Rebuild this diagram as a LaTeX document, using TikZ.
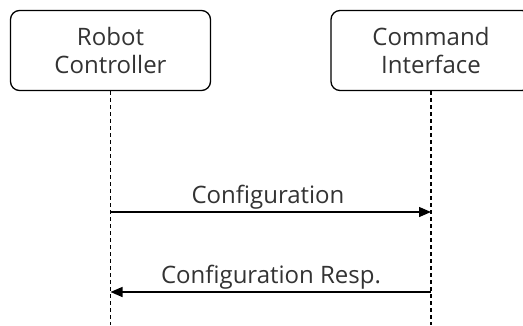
\documentclass[tikz,border=0pt]{standalone}
\usepackage{fontspec}
\setmainfont{Open Sans}
\usepackage{tikz}
\usetikzlibrary{arrows.meta}

\begin{document}
\begin{tikzpicture}[x=1pt,y=-1pt,
	actor/.style={draw,rounded corners=9pt,line width=1.3pt,minimum width=200pt,minimum height=80pt,align=center,text=black!80,font=\fontsize{24}{28}\selectfont},
	lifeline/.style={line width=1.1pt,dash pattern=on 4pt off 3pt},
	msg/.style={line width=1.3pt,-{Triangle[length=12pt,width=10pt]}},
	msglabel/.style={text=black!80,font=\fontsize{24}{28}\selectfont}]
	\useasboundingbox (0,0) rectangle (523,325);
	\clip (0,0) rectangle (523,325);
	\node[actor] (robot) at (110.5,50.5) {Robot\\Controller};
	\node[actor] (cmd) at (431,50.5) {Command\\Interface};
	\coordinate (robotend) at (110.5,325);
	\coordinate (cmdend) at (431,325);
	\draw[lifeline] (robot.south) -- (robotend);
	\draw[lifeline] (cmd.south) -- (cmdend);
	\coordinate (conf1) at (110.5,212);
	\coordinate (conf2) at (431,212);
	\coordinate (resp1) at (431,292);
	\coordinate (resp2) at (110.5,292);
	\draw[msg] (conf1) -- (conf2);
	\draw[msg] (resp1) -- (resp2);
	\node[msglabel] (conf) at (268,197) {Configuration};
	\node[msglabel] (resp) at (271,277) {Configuration Resp.};
\end{tikzpicture}
\end{document}
